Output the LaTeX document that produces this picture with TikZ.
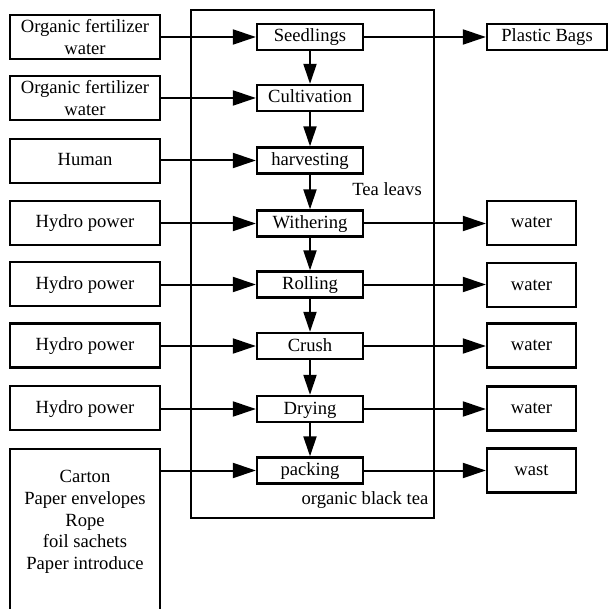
\documentclass[tikz,border=0pt]{standalone}
\usepackage{fontspec}
\setmainfont{Liberation Serif}
\usetikzlibrary{arrows.meta}
\begin{document}
\begin{tikzpicture}[x=1pt,y=-1pt,
 every node/.style={font=\fontsize{18.6}{21.6}\selectfont},
 box/.style={draw, line width=2.3pt, inner sep=0pt, align=center},
 one/.style={text height=13pt, text depth=3pt},
 lbox/.style={box, minimum width=150pt, minimum height=44pt},
 pbox/.style={box, one, minimum width=106pt, minimum height=26pt},
 rbox/.style={box, one, minimum width=89pt, minimum height=44pt},
 harr/.style={line width=2pt, -{Triangle[length=23pt,width=15pt]}},
 varr/.style={line width=2pt, -{Triangle[length=20pt,width=13pt]}},
]
\useasboundingbox (0,0) rectangle (608,609);
\clip (0,0) rectangle (608,609);
% frame
\node[draw, line width=2pt, minimum width=243pt, minimum height=508pt, inner sep=0pt] (frame) at (312.5,264) {};
% process boxes
\node[pbox] (p1) at (310,37) {Seedlings};
\node[pbox] (p2) at (310,98) {Cultivation};
\node[pbox] (p3) at (310,160.5) {harvesting};
\node[pbox] (p4) at (310,223.5) {Withering};
\node[pbox] (p5) at (310,284.5) {Rolling};
\node[pbox] (p6) at (310,346) {Crush};
\node[pbox] (p7) at (310,409) {Drying};
\node[pbox] (p8) at (310,470.5) {packing};
% left boxes
\node[lbox] (l1) at (85,37) {Organic fertilizer\\water};
\node[lbox] (l2) at (85,98) {Organic fertilizer\\water};
\node[lbox, one] (l3) at (85,161) {Human};
\node[lbox, one] (l4) at (85,223) {Hydro power};
\node[lbox, one] (l5) at (85,284) {Hydro power};
\node[lbox, one] (l6) at (85,345.5) {Hydro power};
\node[lbox, one] (l7) at (85,408) {Hydro power};
\node[box, minimum width=150pt, minimum height=190pt, anchor=north] (l8) at (85,448) {};
\node[align=center] (l8t) at (85,522) {Carton\\Paper envelopes\\Rope\\foil sachets\\Paper introduce};
% right boxes
\node[box, one, minimum width=120pt, minimum height=26pt] (r1) at (547,37) {Plastic Bags};
\node[rbox] (r4) at (531.5,223) {water};
\node[rbox] (r5) at (531.5,285) {water};
\node[rbox] (r6) at (531.5,345.5) {water};
\node[rbox] (r7) at (531.5,408.5) {water};
\node[rbox] (r8) at (531.5,470.5) {wast};
% labels
\node (tl) at (387,189) {Tea leavs};
\node (obt) at (365,500) {organic black tea};
% vertical arrows
\foreach \a/\b in {p1/p2,p2/p3,p3/p4,p4/p5,p5/p6,p6/p7,p7/p8}
  \draw[varr] (\a.south) -- (\b.north);
% left arrows
\foreach \i in {1,...,8}
  \draw[harr] (p\i.west -| l\i.east) -- (p\i.west);
% right arrows
\foreach \i in {1,4,5,6,7,8}
  \draw[harr] (p\i.east) -- (p\i.east -| r\i.west);
\end{tikzpicture}
\end{document}
